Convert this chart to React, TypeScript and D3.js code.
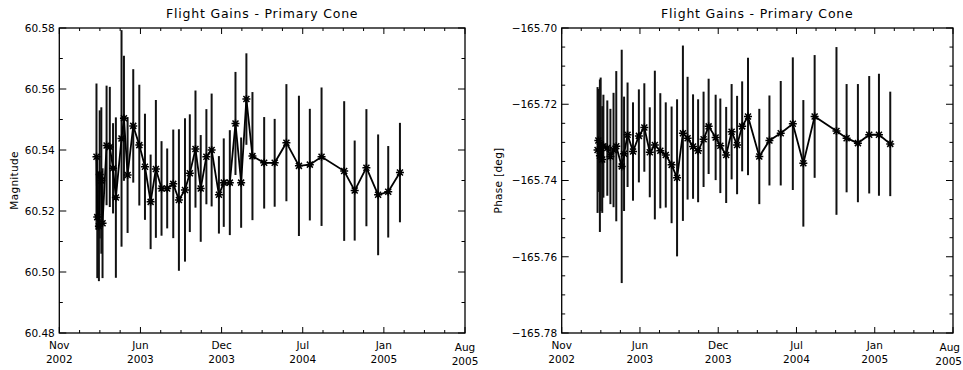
import React from "react";
import * as d3 from "d3";

// observation dates (shared by both panels)
const obsDates = [
  "2003-02-12", "2003-02-14", "2003-02-18", "2003-02-20", "2003-02-24", "2003-02-27",
  "2003-03-09", "2003-03-17", "2003-03-25", "2003-04-01", "2003-04-15", "2003-04-21",
  "2003-04-30", "2003-05-14", "2003-05-29", "2003-06-12", "2003-06-26", "2003-07-09",
  "2003-07-23", "2003-08-06", "2003-08-21", "2003-09-04", "2003-09-19", "2003-10-01",
  "2003-10-15", "2003-10-28", "2003-11-11", "2003-11-24", "2003-12-12", "2003-12-24",
  "2004-01-08", "2004-01-22", "2004-02-05", "2004-02-18", "2004-03-04", "2004-04-02",
  "2004-04-28", "2004-05-27", "2004-06-27", "2004-07-24", "2004-08-22", "2004-10-17",
  "2004-11-12", "2004-12-11", "2005-01-09", "2005-02-03", "2005-03-04",
];

const magnitude = [
  60.5378, 60.518, 60.515, 60.532, 60.53, 60.516,
  60.5415, 60.541, 60.534, 60.5244, 60.5438, 60.5504,
  60.5318, 60.5479, 60.5416, 60.5345, 60.523, 60.5338,
  60.5274, 60.5274, 60.5289, 60.5236, 60.5269, 60.5324,
  60.5403, 60.5274, 60.5378, 60.54, 60.5253, 60.5293,
  60.5293, 60.5487, 60.5293, 60.5567, 60.538, 60.5358,
  60.5358, 60.5424, 60.5348, 60.5352, 60.5378, 60.5331,
  60.5267, 60.5342, 60.5253, 60.5263, 60.5326,
];
const magnitudeErr = [
  0.024, 0.02, 0.018, 0.021, 0.024, 0.018,
  0.0196, 0.0197, 0.0148, 0.0263, 0.0355, 0.0205,
  0.019, 0.0186, 0.0198, 0.0174, 0.0155, 0.0226,
  0.0155, 0.0131, 0.0178, 0.0232, 0.0235, 0.0193,
  0.0192, 0.0175, 0.0156, 0.0185, 0.0127, 0.0145,
  0.0172, 0.0169, 0.0148, 0.015, 0.021, 0.015,
  0.0144, 0.0192, 0.023, 0.0183, 0.0227, 0.0229,
  0.0164, 0.0192, 0.0198, 0.015, 0.0163,
];

const phase = [
  -165.732, -165.7295, -165.7335, -165.7305, -165.7345, -165.731,
  -165.7315, -165.7337, -165.732, -165.731, -165.7363, -165.733,
  -165.728, -165.7324, -165.7283, -165.7261, -165.7326, -165.7307,
  -165.7322, -165.7333, -165.7359, -165.7393, -165.7276, -165.7289,
  -165.7311, -165.7322, -165.7292, -165.7258, -165.7287, -165.7309,
  -165.7333, -165.7272, -165.7307, -165.7258, -165.7232, -165.7337,
  -165.7295, -165.7276, -165.7251, -165.7355, -165.7232, -165.727,
  -165.7289, -165.7302, -165.728, -165.728, -165.7304,
];
const phaseErr = [
  0.0165, 0.0135, 0.02, 0.0175, 0.014, 0.0135,
  0.0125, 0.0125, 0.015, 0.0197, 0.0306, 0.015,
  0.0137, 0.0129, 0.0122, 0.0116, 0.0118, 0.0195,
  0.0151, 0.0138, 0.0153, 0.0206, 0.023, 0.0161,
  0.0137, 0.0135, 0.0125, 0.0125, 0.0112, 0.0124,
  0.0126, 0.0125, 0.0129, 0.0118, 0.0154, 0.0125,
  0.0118, 0.0137, 0.0174, 0.0166, 0.0161, 0.022,
  0.0142, 0.0155, 0.0154, 0.016, 0.0137,
];

const xTickLabels = [
  ["Nov", "2002"], ["Jun", "2003"], ["Dec", "2003"],
  ["Jul", "2004"], ["Jan", "2005"], ["Aug", "2005"],
];
const magTicks = [60.48, 60.5, 60.52, 60.54, 60.56, 60.58];
const phaseTicks = [-165.78, -165.76, -165.74, -165.72, -165.7];

const parse = d3.utcParse("%Y-%m-%d");
const dates = obsDates.map((s) => parse(s) as Date);
const t0 = parse("2002-11-12") as Date;
const t1 = parse("2005-08-12") as Date;

const FONT = "DejaVu Sans";
const TOP = 28;
const BOTTOM = 333;

const asterisk = "M-4,0H4M0,-4V4M-3,-3L3,3M-3,3L3,-3";

type PanelProps = {
  x0: number;
  x1: number;
  values: number[];
  errs: number[];
  ticks: number[];
  minorStep: number;
  fmt: (v: number) => string;
  yLabel: string;
  yLabelX: number;
};

function Panel({ x0, x1, values, errs, ticks, minorStep, fmt, yLabel, yLabelX }: PanelProps) {
  const x = d3.scaleUtc().domain([t0, t1]).range([x0, x1]);
  const yDom = d3.extent(ticks) as [number, number];
  const y = d3.scaleLinear().domain(yDom).range([BOTTOM, TOP]);

  const span = t1.getTime() - t0.getTime();
  const xMajor = d3.range(6).map((i) => new Date(t0.getTime() + (i * span) / 5));
  const xMinor = d3.range(21).map((i) => new Date(t0.getTime() + (i * span) / 20));
  const nMinor = Math.round((yDom[1] - yDom[0]) / minorStep);
  const yMinor = d3.range(nMinor + 1).map((i) => yDom[0] + i * minorStep);

  const line = d3
    .line<number>()
    .x((_, i) => x(dates[i]))
    .y((d) => y(d));

  const midY = (TOP + BOTTOM) / 2;

  return (
    <g>
      <text
        x={(x0 + x1) / 2}
        y={18}
        textAnchor="middle"
        fontFamily={FONT}
        fontSize={12.5}
        letterSpacing={0.8}
      >
        Flight Gains - Primary Cone
      </text>
      <rect x={x0} y={TOP} width={x1 - x0} height={BOTTOM - TOP} fill="none" stroke="#000" strokeWidth={1.3} />
      {xMinor.map((d, i) => (
        <g key={"xm" + i} stroke="#000" strokeWidth={1}>
          <line x1={x(d)} x2={x(d)} y1={BOTTOM} y2={BOTTOM - (i % 4 === 0 ? 6 : 3)} />
          <line x1={x(d)} x2={x(d)} y1={TOP} y2={TOP + (i % 4 === 0 ? 6 : 3)} />
        </g>
      ))}
      {yMinor.map((v, i) => {
        const major = ticks.some((t) => Math.abs(t - v) < 1e-9);
        const len = major ? 7 : 3.5;
        return (
          <g key={"ym" + i} stroke="#000" strokeWidth={1}>
            <line x1={x0} x2={x0 + len} y1={y(v)} y2={y(v)} />
            <line x1={x1} x2={x1 - len} y1={y(v)} y2={y(v)} />
          </g>
        );
      })}
      {xMajor.map((d, i) => {
        const px = x(d);
        const edge = px + 14 > 963;
        const lx = edge ? 962 : px;
        const anchor = edge ? "end" : "middle";
        const dy = i === 5 ? 2 : 0;
        return (
          <g key={"xl" + i} fontFamily={FONT} fontSize={10.5} textAnchor={anchor}>
            <text x={edge ? lx - 2 : lx} y={349 + dy}>{xTickLabels[i][0]}</text>
            <text x={lx} y={363 + dy}>{xTickLabels[i][1]}</text>
          </g>
        );
      })}
      {ticks.map((v) => (
        <text key={"yl" + v} x={x0 - 4.5} y={y(v)} dy="0.36em" textAnchor="end" fontFamily={FONT} fontSize={10.5}>
          {fmt(v)}
        </text>
      ))}
      <text
        transform={`translate(${yLabelX},${midY}) rotate(-90)`}
        textAnchor="middle"
        fontFamily={FONT}
        fontSize={10.5}
        letterSpacing={0.3}
      >
        {yLabel}
      </text>
      {values.map((v, i) => (
        <line
          key={"e" + i}
          x1={x(dates[i])}
          x2={x(dates[i])}
          y1={y(v - errs[i])}
          y2={y(v + errs[i])}
          stroke="#111"
          strokeWidth={2}
        />
      ))}
      <path d={line(values) || ""} fill="none" stroke="#000" strokeWidth={1.8} />
      {values.map((v, i) => (
        <path
          key={"p" + i}
          d={asterisk}
          transform={`translate(${x(dates[i])},${y(v)})`}
          fill="none"
          stroke="#000"
          strokeWidth={1.5}
        />
      ))}
    </g>
  );
}

export default function App() {
  const fmtMag = d3.format(".2f");
  const fmtPh = (v: number) => d3.format(".2f")(v).replace("-", "\u2212");
  return (
    <svg
      width={963}
      height={370}
      style={{ position: "absolute", left: 0, top: 0, background: "#fff" }}
    >
      <Panel
        x0={59.3}
        x1={465}
        values={magnitude}
        errs={magnitudeErr}
        ticks={magTicks}
        minorStep={0.01}
        fmt={fmtMag}
        yLabel="Magnitude"
        yLabelX={18}
      />
      <Panel
        x0={561.7}
        x1={953}
        values={phase}
        errs={phaseErr}
        ticks={phaseTicks}
        minorStep={0.005}
        fmt={fmtPh}
        yLabel="Phase [deg]"
        yLabelX={502}
      />
    </svg>
  );
}
